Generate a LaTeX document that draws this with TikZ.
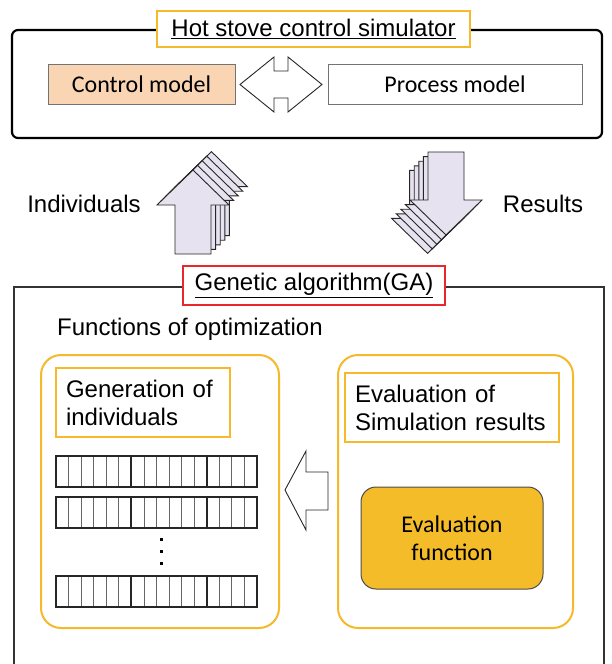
\documentclass[tikz,border=0pt]{standalone}
\usepackage{fontspec}
\setmainfont{Liberation Sans}
\newfontfamily\calib{Carlito}
\usepackage{xcolor}

\definecolor{gold}{HTML}{F5B92A}
\definecolor{peach}{HTML}{F9D5B4}
\definecolor{lav}{HTML}{E6E2EF}
\definecolor{gared}{HTML}{E8282B}
\definecolor{evalfill}{HTML}{F4BC28}

\tikzset{
  titlebox/.style={draw=gold,line width=2.5pt,fill=white,inner sep=0pt},
  modelbox/.style={draw=black!55,line width=0.8pt,inner sep=0pt,
    minimum height=40pt,font=\calib\fontsize{24}{28}\selectfont},
  labbox/.style={draw=gold,line width=2.5pt,inner xsep=10pt,inner ysep=0pt,
    minimum height=69pt,align=left},
  panel/.style={draw=gold,line width=2pt,rounded corners=20pt},
  blockarrow/.style={draw=black!85,line width=0.9pt,line join=miter},
}

\begin{document}
\begin{tikzpicture}[x=1pt,y=-1pt,font=\fontsize{24}{28}\selectfont]
  \useasboundingbox (0,0) rectangle (612,664);

  % simulator
  \draw[line width=2.2pt,rounded corners=6pt] (12,30) rectangle (602,138);
  \node[titlebox,minimum width=313pt,minimum height=36pt] (sim) at (313.5,29)
    {\underline{Hot stove control simulator}};
  \node[modelbox,fill=peach,minimum width=187pt] (ctrl) at (141.5,84) {Control model};
  \node[modelbox,fill=white,minimum width=254pt] (proc) at (455,84) {Process model};
  \draw[blockarrow,fill=white] (240,84.5) -- (274,57) -- (274,71) -- (288,71)
    -- (288,57) -- (322,84.5) -- (288,112) -- (288,98) -- (274,98)
    -- (274,112) -- cycle;

  % individuals / results
  \foreach \k in {4,3,2,1,0}{
    \draw[blockarrow,fill=lav,shift={(4.6*\k,-4.6*\k)}] (175,254) -- (175,205)
      -- (157,205) -- (193,170) -- (229,205) -- (211,205) -- (211,254) -- cycle;
    \draw[blockarrow,fill=lav,shift={(-4.6*\k,4.6*\k)}] (428,152) -- (464,152)
      -- (464,200) -- (482,200) -- (446,235) -- (410,200) -- (428,200) -- cycle;
  }
  \node (indiv) at (84,204) {Individuals};
  \node (res) at (543,204) {Results};

  % genetic algorithm
  \draw[line width=1.4pt,black!80] (14,670) -- (14,287) -- (604,287) -- (604,670);
  \node[draw=gared,line width=2pt,fill=white,inner sep=0pt,
    minimum width=262pt,minimum height=39pt] (ga) at (314,285.5)
    {\underline{Genetic algorithm(GA)}};
  \node[anchor=west,inner sep=0pt] (func) at (57,329) {Functions of optimization};

  \draw[panel] (41,355) rectangle (279,628);
  \draw[panel] (338,355) rectangle (573,628);
  \node[labbox,text width=154pt] (gen) at (143,402.5) {Generation of\\individuals};
  \node[labbox,text width=194pt] (evsim) at (452,407.5)
    {Evaluation of\\Simulation results};
  \node[draw=black!70,line width=1pt,fill=evalfill,rounded corners=15pt,
    minimum width=182pt,minimum height=102pt,align=center,
    font=\calib\fontsize{24}{28}\selectfont] (evfun) at (452,538)
    {Evaluation\\function};

  % chromosomes
  \foreach \y in {456,497,576}{
    \foreach \i in {1,...,15}
      \draw[black!60,line width=0.8pt] (56+12.5625*\i,\y) -- ++(0,31);
    \foreach \i in {6,12}
      \draw[black!85,line width=2pt] (56+12.5625*\i,\y) -- ++(0,31);
    \draw[black!85,line width=2.6pt] (56,\y) rectangle (257,\y+31);
  }
  \foreach \y in {539,551,563}
    \fill (159.5,\y-1.5) rectangle ++(3,3);

  \draw[blockarrow,fill=white] (285,490) -- (306,451) -- (306,472) -- (328,472)
    -- (328,510) -- (306,510) -- (306,530) -- cycle;
\end{tikzpicture}
\end{document}
